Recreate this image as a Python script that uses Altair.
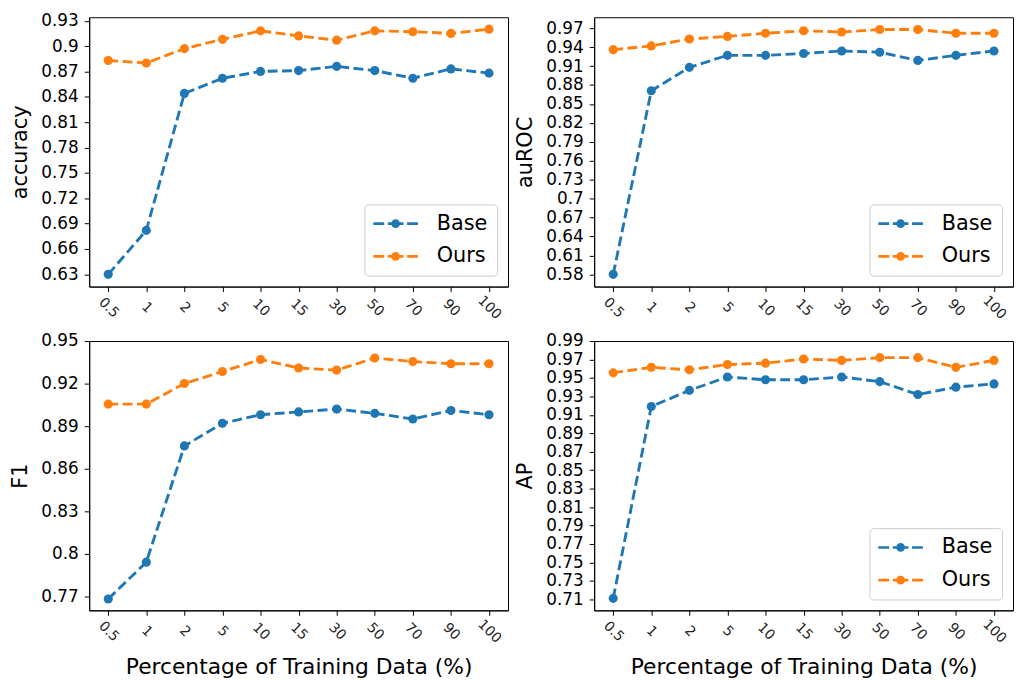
import altair as alt
import pandas as pd

pct = ["0.5", "1", "2", "5", "10", "15", "30", "50", "70", "90", "100"]
methods = ["Base", "Ours"]
colors = ["#1f77b4", "#ff7f0e"]

acc_base = [0.630, 0.682, 0.844, 0.862, 0.870, 0.871, 0.876, 0.871, 0.862, 0.873, 0.868]
acc_ours = [0.883, 0.880, 0.897, 0.908, 0.918, 0.912, 0.907, 0.918, 0.917, 0.915, 0.920]
auroc_base = [0.580, 0.871, 0.908, 0.927, 0.927, 0.930, 0.934, 0.932, 0.919, 0.927, 0.934]
auroc_ours = [0.936, 0.942, 0.953, 0.957, 0.962, 0.966, 0.964, 0.968, 0.968, 0.962, 0.962]
f1_base = [0.768, 0.794, 0.876, 0.892, 0.898, 0.900, 0.902, 0.899, 0.895, 0.901, 0.898]
f1_ours = [0.9055, 0.9055, 0.920, 0.9285, 0.937, 0.931, 0.9295, 0.938, 0.9355, 0.934, 0.934]
ap_base = [0.711, 0.919, 0.9365, 0.951, 0.948, 0.948, 0.951, 0.946, 0.932, 0.940, 0.9435]
ap_ours = [0.9555, 0.9615, 0.9588, 0.9645, 0.966, 0.9705, 0.969, 0.972, 0.972, 0.9615, 0.969]

acc_ticks = [0.63, 0.66, 0.69, 0.72, 0.75, 0.78, 0.81, 0.84, 0.87, 0.90, 0.93]
auroc_ticks = [0.58, 0.61, 0.64, 0.67, 0.70, 0.73, 0.76, 0.79, 0.82, 0.85, 0.88, 0.91, 0.94, 0.97]
f1_ticks = [0.77, 0.80, 0.83, 0.86, 0.89, 0.92, 0.95]
ap_ticks = [0.71, 0.73, 0.75, 0.77, 0.79, 0.81, 0.83, 0.85, 0.87, 0.89, 0.91, 0.93, 0.95, 0.97, 0.99]

acc_domain = [0.6155, 0.9341]
auroc_domain = [0.5606, 0.9874]
f1_domain = [0.76, 0.95]
ap_domain = [0.698, 0.99]

XTITLE = "Percentage of Training Data (%)"
FONT = "DejaVu Sans"

# legend symbol: dashed line with a dot, in units of sqrt(symbolSize)/2 = 10.5 px
LEGEND_PATH = (
    "M-2.143,-0.13H-1.1V0.13H-2.143Z "
    "M-0.75,-0.13H-0.4V0.13H-0.75Z "
    "M0.4,-0.13H0.75V0.13H0.4Z "
    "M1.1,-0.13H2.143V0.13H1.1Z "
    "M-0.42,0A0.42,0.42,0,1,1,0.42,0A0.42,0.42,0,1,1,-0.42,0Z"
)


def panel(metric, base, ours, domain, ticks, show_legend, show_xtitle):
    df = pd.DataFrame({
        "pct": pct + pct,
        "idx": list(range(len(pct))) * 2,
        "value": base + ours,
        "method": ["Base"] * len(pct) + ["Ours"] * len(pct),
    })
    x = alt.X(
        "pct:N", sort=pct,
        scale=alt.Scale(type="point", padding=0.5),
        axis=alt.Axis(
            title=XTITLE if show_xtitle else None,
            labelAngle=45, labelAlign="center", labelBaseline="middle",
            labelFontSize=14, labelPadding=16, labelOverlap=False,
            labelColor="#222222", tickSize=5,
            titleFontSize=22, titleFontWeight="normal", titlePadding=11,
            titleColor="black",
        ),
    )
    y = alt.Y(
        "value:Q",
        scale=alt.Scale(domain=domain, nice=False, zero=False),
        axis=alt.Axis(
            title=metric, values=ticks, format=".2~f",
            labelFontSize=17, labelPadding=6, tickSize=5, labelColor="black",
            titleFontSize=21, titleFontWeight="normal", titlePadding=10,
            titleColor="black",
        ),
    )
    if show_legend:
        legend = alt.Legend(
            title=None, orient="bottom-right", offset=11, padding=9,
            rowPadding=11, strokeColor="#cccccc", cornerRadius=4,
            fillColor="white", labelFontSize=21, labelFont=FONT,
            labelColor="black", labelOffset=31, symbolOffset=12,
            symbolType=LEGEND_PATH,
            symbolSize=441, symbolStrokeWidth=0, symbolOpacity=1,
        )
    else:
        legend = None
    color = alt.Color(
        "method:N",
        scale=alt.Scale(domain=methods, range=colors),
        legend=legend,
    )
    pts = alt.Chart(df).mark_point(filled=True, size=85, opacity=1).encode(
        x=x, y=y, color=color
    )
    lines = alt.Chart(df).mark_line(strokeDash=[10, 4.5], strokeWidth=2.9).encode(
        x=x, y=y, color=color, order=alt.Order("idx:Q")
    )
    return alt.layer(pts, lines).properties(width=423, height=272)


p1 = panel("accuracy", acc_base, acc_ours, acc_domain, acc_ticks, True, False)
p2 = panel("auROC", auroc_base, auroc_ours, auroc_domain, auroc_ticks, True, False)
p3 = panel("F1", f1_base, f1_ours, f1_domain, f1_ticks, False, True)
p4 = panel("AP", ap_base, ap_ours, ap_domain, ap_ticks, True, True)

chart = (
    alt.concat(p1, p2, p3, p4, columns=2, spacing={"row": 55, "column": 87}, bounds="flush")
    .resolve_legend(color="independent")
    .resolve_scale(color="independent")
    .properties(padding={"left": 1, "top": 0, "right": 0, "bottom": 0}, background="white")
    .configure_view(stroke="black", strokeWidth=1)
    .configure_axis(domainColor="black", tickColor="black", grid=False,
                    labelFont=FONT, titleFont=FONT, domainWidth=1, tickWidth=1)
    .configure_legend(labelFont=FONT)
)

chart.save("out.html", embed_options={"renderer": "svg", "actions": False})
